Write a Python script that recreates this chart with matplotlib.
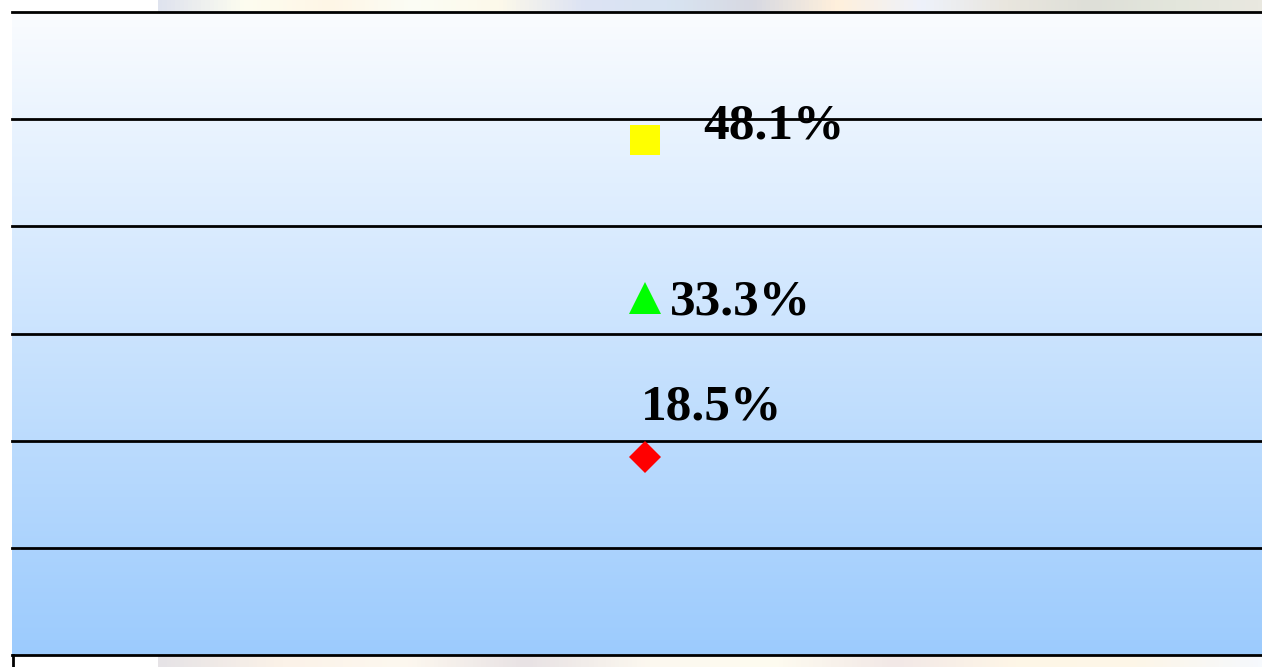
import numpy as np
import matplotlib.pyplot as plt
from matplotlib.colors import LinearSegmentedColormap

# values (percent)
labels = ['48.1%', '33.3%', '18.5%']
values = [48.1, 33.3, 18.5]
markers = ['s', '^', 'D']
colors = ['#FFFF00', '#00FF00', '#FF0000']
sizes = [21, 23, 16]
# label offsets from the marker, in pixels
offsets = [(58, 1), (25, -16), (-4, 37)]

yticks = [0, 10, 20, 30, 40, 50, 60]

W, H = 1262, 667
fig = plt.figure(figsize=(W / 100, H / 100), dpi=100)
fig.patch.set_facecolor('white')

# -------------------------------------------------------------------------------
# faint background picture showing above and below the plot area

bg = fig.add_axes([158 / W, 0, 1 - 158 / W, 1], zorder=0)
strip_top = LinearSegmentedColormap.from_list('top', [
    '#dfe3ee', '#fdfdf0', '#fff6e6', '#fbfdf5', '#fdf9ea', '#dde3f4',
    '#d8e4f2', '#d7d9e2', '#fff0dc', '#eef2fb', '#e9e6de', '#dedfd8',
    '#e3e6dc', '#e9e8e0'])
strip_bot = LinearSegmentedColormap.from_list('bot', [
    '#e6e3e6', '#fbf2e8', '#fdf8ef', '#e8e2e4', '#fcf8ef', '#fefcf0',
    '#f2e8e6', '#fef6e6', '#fdf6e8', '#f6f9fd'])
grad = np.linspace(0, 1, 256)[None, :]
bg.imshow(grad, cmap=strip_top, aspect='auto', extent=[0, 1, 0.5, 1])
bg.imshow(grad, cmap=strip_bot, aspect='auto', extent=[0, 1, 0, 0.5])
bg.set_xlim(0, 1)
bg.set_ylim(0, 1)
bg.axis('off')

# small box edge peeking out below the plot
fig.add_artist(plt.Line2D([13 / W, 13 / W], [0, 12 / H], color='black', lw=2))

# -------------------------------------------------------------------------------
# plot area

ax = fig.add_axes([12 / W, 12 / H, (1278 - 12) / W, 643 / H], zorder=1)
ax.set_xlim(0, 1)
ax.set_ylim(yticks[0], yticks[-1])

blue = LinearSegmentedColormap.from_list('blue', ['#9ccbfd', '#fafcff'])
ax.imshow(np.linspace(0, 1, 256)[:, None], cmap=blue, aspect='auto',
          origin='lower', extent=[0, 1, yticks[0], yticks[-1]], zorder=0)

for y in yticks:
    ax.axhline(y, color='black', lw=2, zorder=1, clip_on=False)

for lab, v, m, c, s, off in zip(labels, values, markers, colors, sizes, offsets):
    ax.plot(0.5, v, marker=m, color=c, markersize=s, linestyle='none',
            markeredgewidth=0, zorder=3)
    ax.annotate(lab, (0.5, v), xytext=off, textcoords='offset pixels',
                ha='left', va='baseline', fontsize=37, fontweight='bold',
                family='Liberation Serif', color='black', zorder=4)

ax.set_xticks([])
ax.set_yticks([])
for sp in ax.spines.values():
    sp.set_visible(False)

fig.savefig('out.png', dpi=100)
